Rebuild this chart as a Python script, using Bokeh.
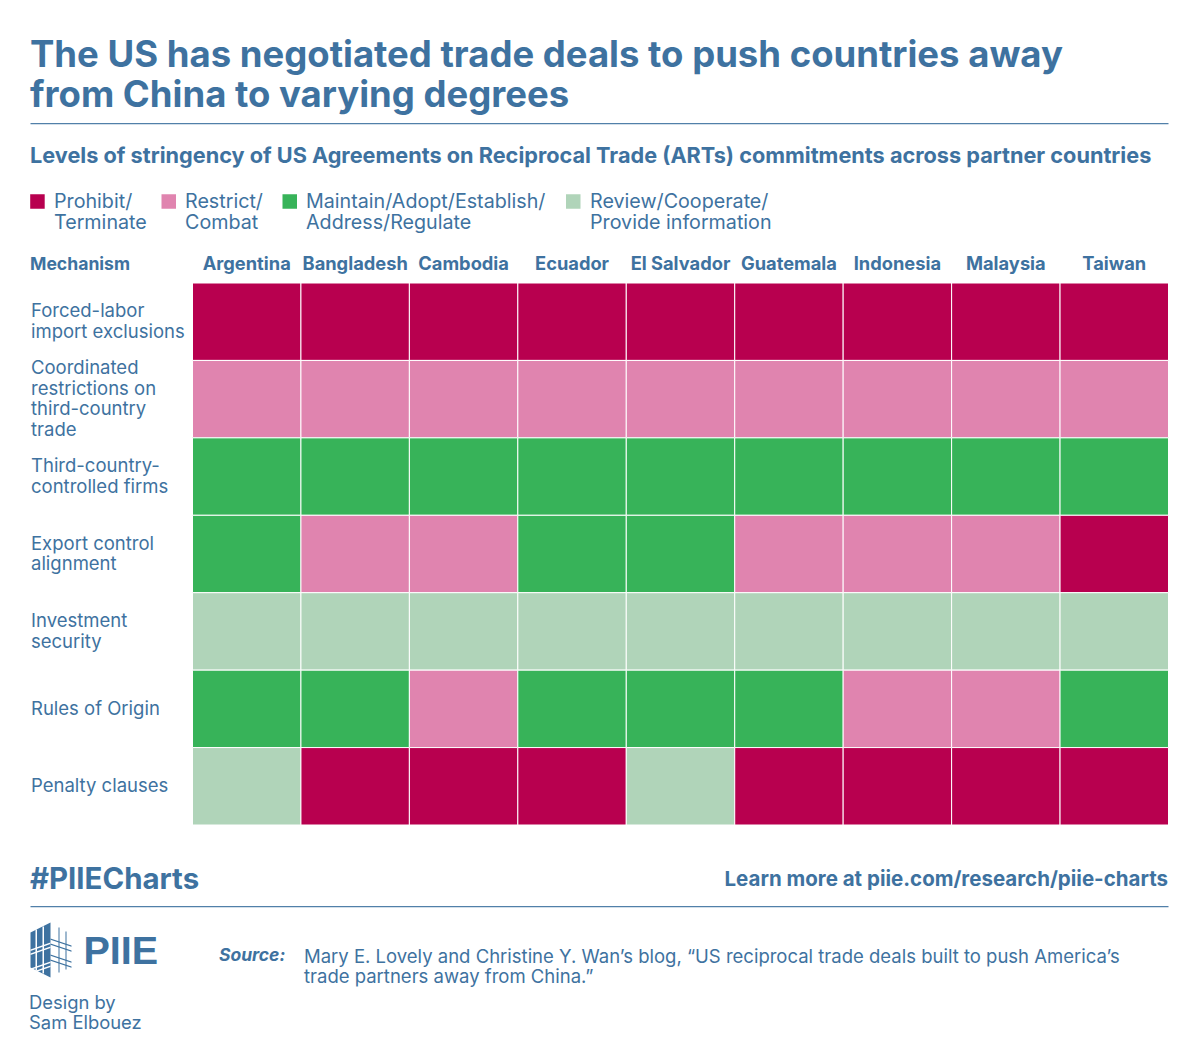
from bokeh.plotting import figure
from bokeh.core.properties import value
from bokeh.models import ColumnDataSource, Label, LabelSet, BoxAnnotation, PolyAnnotation, Range1d
from bokeh.embed import file_html
from bokeh.resources import INLINE

countries = ["Argentina", "Bangladesh", "Cambodia", "Ecuador", "El Salvador", "Guatemala", "Indonesia", "Malaysia", "Taiwan"]
mechanisms = ["Forced-labor\nimport exclusions", "Coordinated\nrestrictions on\nthird-country\ntrade",
              "Third-country-\ncontrolled firms", "Export control\nalignment", "Investment\nsecurity",
              "Rules of Origin", "Penalty clauses"]
# P = Prohibit, R = Restrict, M = Maintain, V = Review
forced_labor = list("PPPPPPPPP")
coordinated = list("RRRRRRRRR")
third_country = list("MMMMMMMMM")
export_control = list("MRRMMRRRP")
investment = list("VVVVVVVVV")
rules_of_origin = list("MMRMMMRRM")
penalty = list("VPPPVPPPP")
levels = [forced_labor, coordinated, third_country, export_control, investment, rules_of_origin, penalty]
level_colors = {"P": "#B8004F", "R": "#E084AF", "M": "#37B359", "V": "#B0D4B9"}

BLUE = "#3E72A0"
W, H = 1184, 1040
L_, R_, T_, B_ = 192, 1168, 282.5, 824.5
BODY = "Inter"
cw = (R_ - L_) / len(countries)
rh = (B_ - T_) / len(mechanisms)

xs, ys, cs = [], [], []
for i, row in enumerate(levels):
    for j, v in enumerate(row):
        xs.append(j + 0.5); ys.append(i + 0.5); cs.append(level_colors[v])

p = figure(width=W, height=H, output_backend="svg", toolbar_location=None,
           x_range=Range1d(-L_ / cw, (W - L_) / cw), y_range=Range1d((H - T_) / rh, -T_ / rh),
           x_axis_location=None, y_axis_location=None, min_border=0)
p.outline_line_color = None
p.grid.visible = False
p.rect(x=xs, y=ys, width=1, height=1, fill_color=cs, line_color="white", line_width=1)


def T(x, y, s, size, bold=False, italic=False, align="left", font=BODY):
    style = "bold italic" if bold and italic else "bold" if bold else "italic" if italic else "normal"
    p.add_layout(Label(x=x - 0.5, y=H - (y - 0.36 * size), x_units="screen", y_units="screen", text=s, text_font=font,
                       text_font_size=f"{size}px", text_font_style=style, text_color=BLUE,
                       text_align=align, text_baseline="alphabetic"))


def rule(y):
    p.add_layout(BoxAnnotation(left=30, right=R_, top=H - y, bottom=H - y - 1.2,
                               left_units="screen", right_units="screen", top_units="screen", bottom_units="screen",
                               fill_color=BLUE, fill_alpha=0.9, line_color=None, level="overlay"))


def swatch(x, y, color):
    p.add_layout(BoxAnnotation(left=x, right=x + 14.5, top=H - y, bottom=H - y - 14.5,
                               left_units="screen", right_units="screen", top_units="screen", bottom_units="screen",
                               fill_color=color, fill_alpha=1, line_color=None, level="overlay"))


def poly(pts, color):
    p.add_layout(PolyAnnotation(xs=[a for a, _ in pts], ys=[H - b for _, b in pts],
                                xs_units="screen", ys_units="screen", fill_color=color, fill_alpha=1,
                                line_color=None, level="overlay"))


T(30, 67, "The US has negotiated trade deals to push countries away", 36.5, bold=True)
T(30, 107, "from China to varying degrees", 36.5, bold=True)
rule(122.5)
T(30, 162, "Levels of stringency of US Agreements on Reciprocal Trade (ARTs) commitments across partner countries", 21.7, bold=True)

legend = [(29.7, 54, "P", "Prohibit/", "Terminate"), (161, 185, "R", "Restrict/", "Combat"),
          (282, 306, "M", "Maintain/Adopt/Establish/", "Address/Regulate"),
          (565.5, 590, "V", "Review/Cooperate/", "Provide information")]
for sx, tx, k, a, b in legend:
    swatch(sx, 193.7, level_colors[k])
    T(tx, 208, a, 19.7)
    T(tx, 229, b, 19.7)

T(30, 269, "Mechanism", 17.6, bold=True)

head_src = ColumnDataSource(dict(x=[j + 0.5 for j in range(len(countries))], text=countries,
                                 y=[H - 269] * len(countries)))
p.add_layout(LabelSet(x="x", y="y", text="text", source=head_src, y_units="screen", text_font=value(BODY),
                      text_font_size="18.3px", text_font_style="bold", text_color=BLUE, text_align="center",
                      text_baseline="alphabetic"))

label_src = ColumnDataSource(dict(y=[i + 0.5 for i in range(len(mechanisms))], text=mechanisms,
                                  x=[30.5] * len(mechanisms)))
p.add_layout(LabelSet(x="x", y="y", text="text", source=label_src, x_units="screen", text_font=value(BODY),
                      text_font_size="18.5px", text_color=BLUE, text_align="left", text_baseline="middle",
                      text_line_height=0.94, y_offset=1))

T(30, 889, "#PIIECharts", 29.4, bold=True)
T(1168, 885, "Learn more at piie.com/research/piie-charts", 20.5, bold=True, align="right")
rule(905.5)

# logo
poly([(30, 932), (50, 922), (50, 977), (30, 967)], BLUE)
for a, b in [((35, 929), (36, 970)), ((42, 926), (43, 973))]:
    poly([(a[0], a[1]), (a[0] + 1.5, a[1]), (b[0] + 0.5, b[1]), (b[0] - 1, b[1])], "white")
for y0 in (942, 946, 961, 965):
    poly([(30, y0 + 7), (50, y0), (50, y0 + 1.5), (30, y0 + 8.5)], "white")
poly([(58, 927), (59, 927), (59, 972), (58, 972)], BLUE)
poly([(65, 931), (66, 931), (66, 969), (65, 969)], BLUE)
for y0 in (938, 943, 954, 959):
    poly([(50, y0), (71, y0 + 7), (71, y0 + 8.2), (50, y0 + 1.2)], BLUE)
T(83.5, 963.5, "PIIE", 39.5, bold=True, font="Liberation Sans")

T(29, 1008, "Design by", 18.4)
T(29, 1028.5, "Sam Elbouez", 18.4)
T(219, 960, "Source:", 17.5, bold=True, italic=True)
T(304, 962, "Mary E. Lovely and Christine Y. Wan\u2019s blog, \u201cUS reciprocal trade deals built to push America\u2019s", 18.5)
T(304, 982, "trade partners away from China.\u201d", 18.5)

open("out.html", "w").write(file_html(p, INLINE))
